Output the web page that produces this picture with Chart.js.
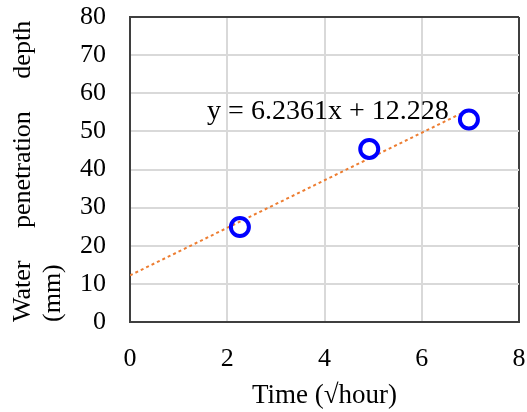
<!DOCTYPE html>
<html>
<head>
<meta charset="utf-8">
<script src="https://cdn.jsdelivr.net/npm/chart.js@4/dist/chart.umd.min.js"></script>
<style>
  html, body { margin: 0; padding: 0; background: #fff; }
  #wrap { width: 527px; height: 412px; }
</style>
</head>
<body>
<div id="wrap"><canvas id="c" width="527" height="412"></canvas></div>
<script>
// Measured points
const timeX = [2.26, 4.92, 6.97];
const depthY = [24.9, 45.4, 53.1];
// Trendline (Excel linear fit) endpoints
const trendX = [0, 6.97];
const trendY = [12.228, 55.69];
const equationText = 'y = 6.2361x + 12.228';
const equationPos = [4.07, 55.2];
const xTicks = [0, 2, 4, 6, 8];
const yTicks = [0, 10, 20, 30, 40, 50, 60, 70, 80];

const SERIF = '"Liberation Serif", "Times New Roman", serif';
const DARK = '#3f3f3f';
const GRID = '#d9d9d9';

const eqPlugin = {
  id: 'eq',
  afterDatasetsDraw(chart) {
    const {ctx, scales} = chart;
    ctx.save();
    ctx.font = '28px ' + SERIF;
    ctx.fillStyle = '#000';
    ctx.textAlign = 'center';
    ctx.textBaseline = 'middle';
    ctx.fillText(equationText, scales.x.getPixelForValue(equationPos[0]), scales.y.getPixelForValue(equationPos[1]));
    ctx.restore();
  }
};

new Chart(document.getElementById('c'), {
  type: 'scatter',
  data: {
    datasets: [
      {
        label: 'Data',
        data: timeX.map((x, i) => ({x, y: depthY[i]})),
        pointStyle: 'circle',
        pointRadius: 9,
        pointBorderWidth: 4,
        borderColor: '#0000ff',
        backgroundColor: 'rgba(255,255,255,0)',
        order: 1
      },
      {
        label: 'Trend',
        type: 'line',
        data: trendX.map((x, i) => ({x, y: trendY[i]})),
        borderColor: '#ed7d31',
        borderWidth: 2,
        borderDash: [3, 3],
        pointRadius: 0,
        fill: false,
        order: 2
      }
    ]
  },
  options: {
    responsive: false,
    animation: false,
    events: [],
    layout: { autoPadding: false, padding: { top: 17, right: 8, bottom: 1, left: 0 } },
    plugins: { legend: { display: false }, tooltip: { enabled: false } },
    scales: {
      x: {
        type: 'linear',
        min: 0, max: 8,
        afterBuildTicks: (s) => { s.ticks = xTicks.map(v => ({value: v})); },
        afterFit: (s) => { s.height = 89; },
        ticks: { font: { family: SERIF, size: 26 }, color: '#000', padding: 0 },
        grid: {
          color: (c) => (c.tick && c.tick.value === 8) ? DARK : GRID,
          lineWidth: 2,
          drawTicks: true,
          tickLength: 22,
          tickColor: 'rgba(0,0,0,0)'
        },
        border: { color: DARK, width: 2 },
        title: {
          display: true,
          text: 'Time (√hour)',
          font: { family: SERIF, size: 27, lineHeight: 1.15 },
          color: '#000',
          padding: { top: 0, bottom: 0 }
        }
      },
      y: {
        type: 'linear',
        min: 0, max: 80,
        afterBuildTicks: (s) => { s.ticks = yTicks.map(v => ({value: v})); },
        afterFit: (s) => { s.width = 130; },
        ticks: { font: { family: SERIF, size: 26 }, color: '#000', padding: 0 },
        grid: {
          color: (c) => (c.tick && c.tick.value === 80) ? DARK : GRID,
          lineWidth: 2,
          drawTicks: true,
          tickLength: 24,
          tickColor: 'rgba(0,0,0,0)'
        },
        border: { color: DARK, width: 2 },
        title: {
          display: true,
          align: 'start',
          text: ['Water     penetration     depth', '(mm)'],
          font: { family: SERIF, size: 26, lineHeight: 1.15 },
          color: '#000',
          padding: { top: 8, bottom: 0 }
        }
      }
    }
  },
  plugins: [eqPlugin]
});
</script>
</body>
</html>
